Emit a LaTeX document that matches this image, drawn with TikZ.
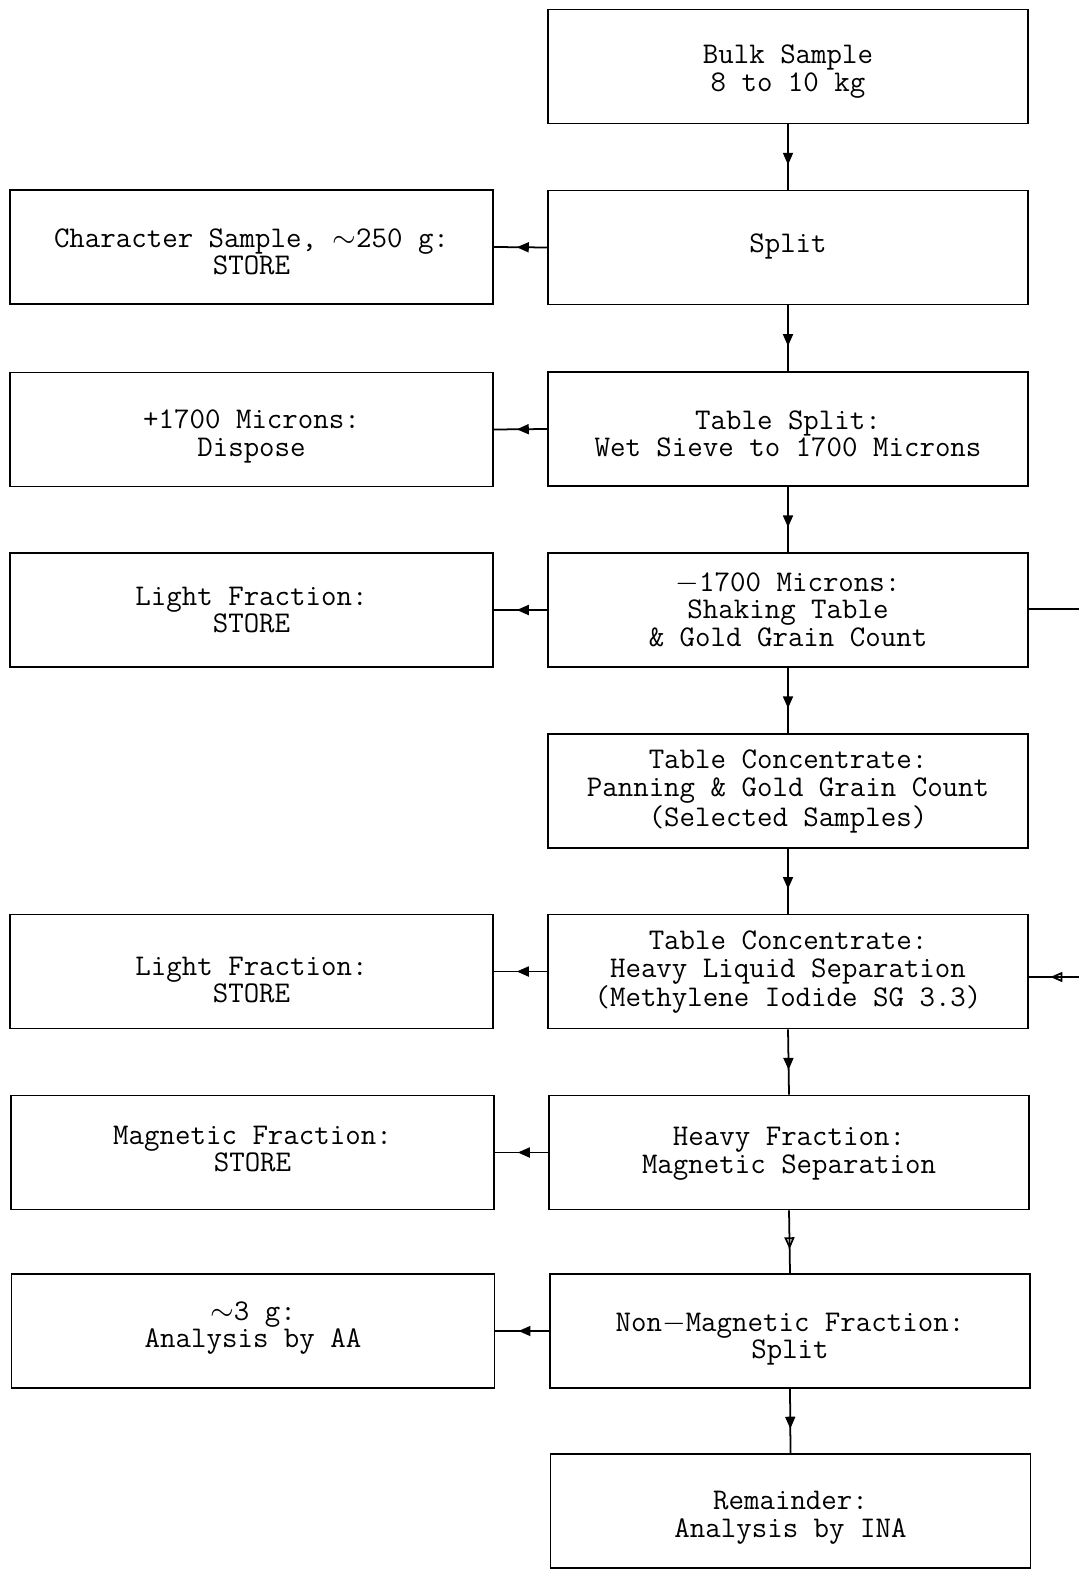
\documentclass[tikz,border=0pt]{standalone}
\usetikzlibrary{arrows.meta,decorations.markings}
\begin{document}
\begin{tikzpicture}[x=0.02cm,y=-0.02cm,
  txt/.style={font=\ttfamily\fontsize{17.1}{15.7}\selectfont,align=center,inner sep=0pt},
  rbox/.style={draw,line width=1pt,minimum width=9.6cm,minimum height=2.28cm,inner sep=0pt},
  lbox/.style={draw,line width=1pt,minimum width=9.66cm,minimum height=2.28cm,inner sep=0pt},
  vconn/.style={line width=1pt,postaction={decorate},decoration={markings,mark=at position 0.62 with {\arrow{Triangle[length=2.4mm,width=2mm]}}}},
  voconn/.style={line width=1pt,postaction={decorate},decoration={markings,mark=at position 0.62 with {\arrow{Triangle[open,length=2.4mm,width=2mm]}}}},
  hconn/.style={line width=1pt,postaction={decorate},decoration={markings,mark=at position 0.57 with {\arrow{Triangle[length=2.4mm,width=2mm]}}}},
  hoconn/.style={line width=1pt,postaction={decorate},decoration={markings,mark=at position 0.57 with {\arrow{Triangle[open,length=2.4mm,width=2mm]}}}}]
\useasboundingbox (0,0) rectangle (1079,1574);
% right column boxes
\node[rbox] (r1) at (788,66.5) {};
\node[rbox] (r2) at (788,247.5) {};
\node[rbox] (r3) at (788,429) {};
\node[rbox] (r4) at (788,610) {};
\node[rbox] (r5) at (788,791) {};
\node[rbox] (r6) at (788,971.5) {};
\node[rbox] (r7) at (789,1152.5) {};
\node[rbox] (r8) at (790,1331) {};
\node[rbox] (r9) at (790.5,1511) {};
% right column texts
\node[txt] (t1) at (788,71.5) {Bulk Sample\\8 to 10 kg};
\node[txt] (t2) at (788,246.5) {Split};
\node[txt] (t3) at (788,434) {Table Split:\\Wet Sieve to 1700 Microns};
\node[txt] (t4) at (788,609.5) {$-$1700 Microns:\\Shaking Table\\\& Gold Grain Count};
\node[txt] (t5) at (788,791.5) {Table Concentrate:\\Panning \& Gold Grain Count\\(Selected Samples)};
\node[txt] (t6) at (788,972) {Table Concentrate:\\Heavy Liquid Separation\\(Methylene Iodide SG 3.3)};
\node[txt] (t7) at (789,1154) {Heavy Fraction:\\Magnetic Separation};
\node[txt] (t8) at (790,1339) {Non$-$Magnetic Fraction:\\Split};
\node[txt] (t9) at (790.5,1518) {Remainder:\\Analysis by INA};
% left column boxes
\node[lbox] (l2) at (251.5,247) {};
\node[lbox] (l3) at (251.5,429.5) {};
\node[lbox] (l4) at (251.5,610) {};
\node[lbox] (l6) at (251.5,971.5) {};
\node[lbox] (l7) at (252.5,1152.5) {};
\node[lbox] (l8) at (253,1331) {};
% left column texts
\node[txt] (s2) at (251.5,252) {Character Sample, $\sim$250 g:\\STORE};
\node[txt] (s3) at (251.5,436.5) {+1700 Microns:\\Dispose};
\node[txt] (s4) at (251.5,610) {Light Fraction:\\STORE};
\node[txt] (s6) at (251.5,980) {Light Fraction:\\STORE};
\node[txt] (s7) at (252.5,1149) {Magnetic Fraction:\\STORE};
\node[txt] (s8) at (253,1328) {$\sim$3 g:\\Analysis by AA};
% vertical connectors
\draw[vconn] (r1.south) -- (r2.north);
\draw[vconn] (r2.south) -- (r3.north);
\draw[vconn] (r3.south) -- (r4.north);
\draw[vconn] (r4.south) -- (r5.north);
\draw[vconn] (r5.south) -- (r6.north);
\draw[vconn] (r6.south) -- (r7.north);
\draw[voconn] (r7.south) -- (r8.north);
\draw[vconn] (r8.south) -- (r9.north);
% horizontal connectors
\draw[hconn] (r2.west) -- (l2.east);
\draw[hconn] (r3.west) -- (l3.east);
\draw[hconn] (r4.west) -- (l4.east);
\draw[hconn] (r6.west) -- (l6.east);
\draw[hconn] (r7.west) -- (l7.east);
\draw[hconn] (r8.west) -- (l8.east);
% right edge stubs
\coordinate (e1) at (1079,609);
\coordinate (e2) at (1079,977);
\draw[line width=1pt] (r4.east |- e1) -- (e1);
\draw[hoconn] (e2) -- (r6.east |- e2);
\end{tikzpicture}
\end{document}
